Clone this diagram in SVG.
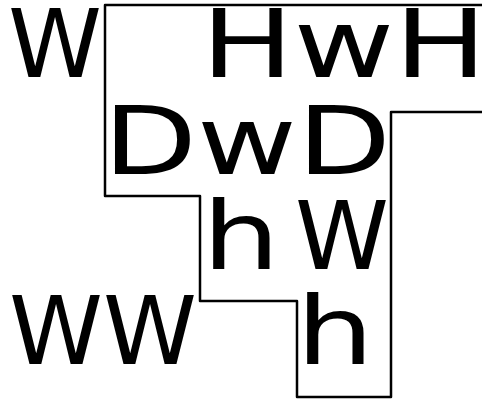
<svg xmlns="http://www.w3.org/2000/svg" width="482" height="402" viewBox="0 0 482 402">
<style>
.t{font-family:"DejaVu Sans",sans-serif;font-size:95px;fill:#000}
.c{fill:none;stroke:#000;stroke-width:2.5;stroke-linejoin:round}
</style>
<rect width="482" height="402" fill="#fff"/>
<g id="connectors">
<path class="c" d="M482,5 H105 V196 H200 V301 H297 V397 H391 V112 H482"/>
</g>
<g id="n1"><text class="t" x="8" y="77">W</text></g>
<g id="n2"><text class="t" x="201" y="77" textLength="286" lengthAdjust="spacingAndGlyphs">HwH</text></g>
<g id="n3"><text class="t" x="103" y="174" textLength="288" lengthAdjust="spacingAndGlyphs">DwD</text></g>
<g id="n4"><text class="t" x="202" y="269"><tspan textLength="78" lengthAdjust="spacingAndGlyphs">h</tspan> <tspan x="295">W</tspan></text></g>
<g id="n5"><text class="t" x="9" y="364">WW</text></g>
<g id="n6"><text class="t" x="296" y="364" textLength="78" lengthAdjust="spacingAndGlyphs">h</text></g>
</svg>
